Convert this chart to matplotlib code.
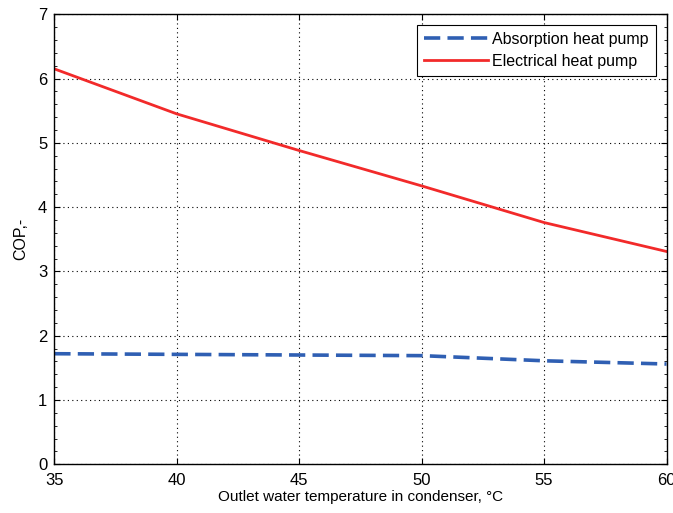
import numpy as np
import matplotlib.pyplot as plt
from matplotlib.ticker import MultipleLocator

# Outlet temperature aur COP values (picture se padhe)
temp = [35, 40, 45, 50, 55, 60]
cop_absorption = [1.72, 1.71, 1.70, 1.69, 1.61, 1.56]
cop_electrical = [6.15, 5.45, 4.88, 4.33, 3.76, 3.31]

plt.rcParams['font.family'] = ['Liberation Sans', 'DejaVu Sans']
plt.rcParams['font.size'] = 11

fig = plt.figure(figsize=(6.73, 5.13), dpi=100)
ax = fig.add_axes([0.0807, 0.0949, 0.9097, 0.8774])

ax.plot(temp, cop_absorption, '--', color='#2f5fb3', lw=2.6, dashes=(4.5, 2),
        label='Absorption heat pump')
ax.plot(temp, cop_electrical, '-', color='#f22a2a', lw=2,
        label='Electrical heat pump')

ax.set_xlim(35, 60)
ax.set_ylim(0, 7)
ax.xaxis.set_major_locator(MultipleLocator(5))
ax.yaxis.set_major_locator(MultipleLocator(1))
ax.yaxis.set_minor_locator(MultipleLocator(0.2))
ax.tick_params(which='both', direction='in', top=True, right=True, labelsize=12)
ax.tick_params(axis='x', which='major', length=4, pad=6)
ax.tick_params(axis='y', which='major', length=4, pad=5)
ax.tick_params(which='minor', length=2.5)
ax.grid(True, which='major', color='black', linestyle=(0, (1, 3)), lw=0.8)
for s in ax.spines.values():
    s.set_linewidth(1)

ax.set_xlabel('Outlet water temperature in condenser, °C', fontsize=11, labelpad=2)
ax.set_ylabel('COP,-', fontsize=11.5, labelpad=7)

leg = ax.legend(loc='upper right', fancybox=False, edgecolor='black',
                framealpha=1, borderaxespad=0.65, handlelength=4.0,
                fontsize=11.5, borderpad=0.45, labelspacing=0.45, handletextpad=0.3)
leg.get_frame().set_linewidth(0.8)

plt.savefig('out.png', dpi=100)
